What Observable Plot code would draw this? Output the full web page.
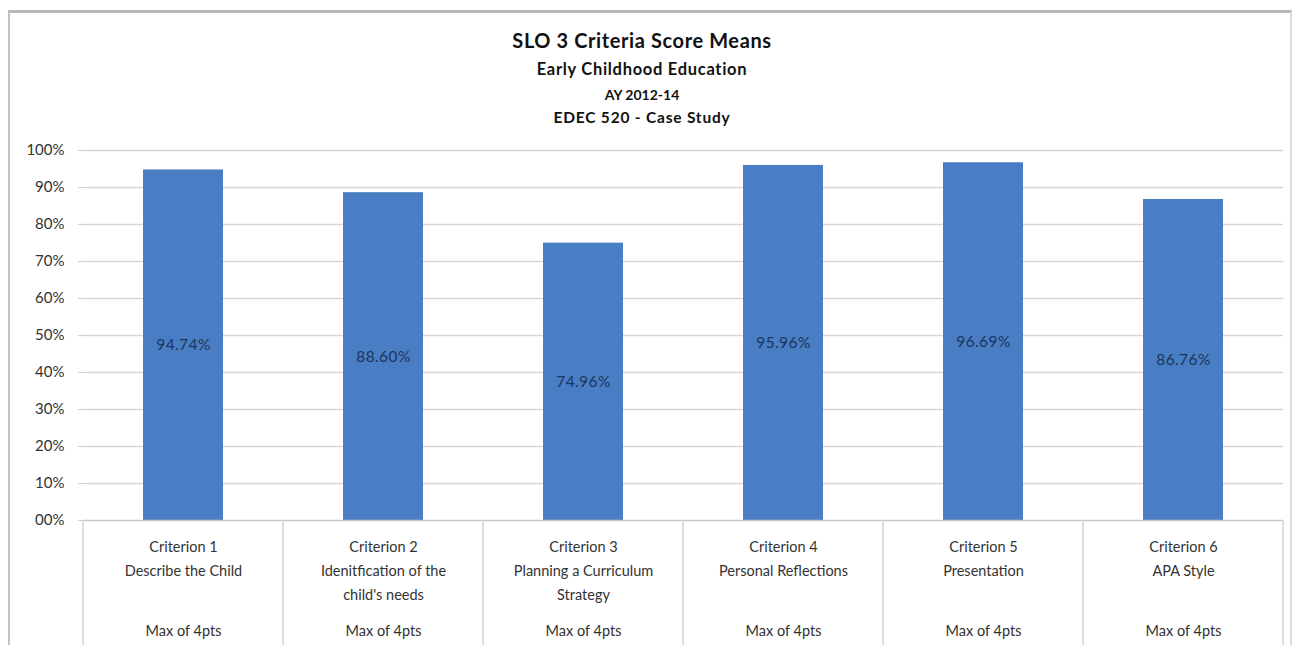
<!DOCTYPE html>
<html>
<head>
<meta charset="utf-8">
<script src="https://cdn.jsdelivr.net/npm/d3@7"></script>
<script src="https://cdn.jsdelivr.net/npm/@observablehq/plot@0.6"></script>
<style>
  html, body { margin: 0; padding: 0; background: #fff; }
  #wrap { position: relative; width: 1297px; height: 645px; overflow: hidden; font-family: Lato, "Open Sans", sans-serif; }
  #frame { position: absolute; left: 8px; top: 10px; width: 1280px; height: 700px; border-top: 3px solid #b8b8b8; border-left: 2px solid #c4c4c4; border-right: 2px solid #dcdcdc; }
  .t { position: absolute; left: 0; width: 1284px; text-align: center; font-weight: bold; color: #111; }
  #t1 { top: 28px; font-size: 20px; letter-spacing: 0.6px; }
  #t2 { top: 59px; font-size: 16.5px; letter-spacing: 0.7px; }
  #t3 { top: 86px; font-size: 14px; }
  #t4 { top: 108px; font-size: 15.5px; letter-spacing: 0.8px; }
  #chart { position: absolute; left: 0; top: 140px; }
  .vlab text { letter-spacing: 0.4px; }
</style>
</head>
<body>
<div id="wrap">
  <div id="frame"></div>
  <div class="t" id="t1">SLO 3 Criteria Score Means</div>
  <div class="t" id="t2">Early Childhood Education</div>
  <div class="t" id="t3">AY 2012-14</div>
  <div class="t" id="t4">EDEC 520 - Case Study</div>
  <div id="chart"></div>
</div>
<script>
const criteria = ["Criterion 1", "Criterion 2", "Criterion 3", "Criterion 4", "Criterion 5", "Criterion 6"];
const descriptions = ["Describe the Child", "Idenitfication of the\nchild's needs", "Planning a Curriculum\nStrategy", "Personal Reflections", "Presentation", "APA Style"];
const maxLabels = ["Max of 4pts", "Max of 4pts", "Max of 4pts", "Max of 4pts", "Max of 4pts", "Max of 4pts"];
const means = [94.74, 88.60, 74.96, 95.96, 96.69, 86.76];
const yTicks = [0, 10, 20, 30, 40, 50, 60, 70, 80, 90, 100];

const data = criteria.map((c, i) => ({c, desc: c + "\n" + descriptions[i], max: maxLabels[i], v: means[i]}));

function dividers(index, scales, values, dims) {
  const sx = scales.x;
  const n = criteria.length;
  const starts = criteria.map(c => sx(c));
  const step = starts[1] - starts[0];
  const bw = typeof sx.bandwidth === "function" ? sx.bandwidth() : (scales.scales?.x?.bandwidth ?? step * 0.4);
  const gap = (step - bw) / 2;
  const xs = starts.map(s => s - gap).concat([starts[n - 1] + bw + gap]);
  const g = d3.create("svg:g");
  const y0 = dims.height - dims.marginBottom;
  g.selectAll("line").data(xs).join("line")
    .attr("x1", d => d).attr("x2", d => d)
    .attr("y1", y0).attr("y2", dims.height)
    .attr("stroke", "#d4d4d4").attr("stroke-width", 1.5);
  return g.node();
}

const chart = Plot.plot({
  width: 1297,
  height: 505,
  marginTop: 10,
  marginBottom: 125,
  marginLeft: 83,
  marginRight: 14,
  style: {fontFamily: "Lato, 'Open Sans', sans-serif", background: "transparent"},
  x: {domain: criteria, paddingInner: 0.6, paddingOuter: 0.3, axis: null},
  y: {domain: [0, 100], axis: null},
  marks: [
    Plot.ruleY(yTicks.filter(t => t > 0), {stroke: "#d6d6d6", strokeWidth: 1.3}),
    Plot.axisY({ticks: yTicks, tickSize: 5, tickPadding: 14, stroke: "#d0d0d0", label: null,
      tickFormat: d => (d === 0 ? "00" : String(d)) + "%", fontSize: 15, fill: "#333"}),
    Plot.barY(data, {x: "c", y: "v", fill: "#4a7ec4"}),
    Plot.ruleY([0], {stroke: "#c8c8c8", strokeWidth: 1.5}),
    Plot.text(data, {x: "c", y: d => d.v / 2, text: d => d.v.toFixed(2) + "%", fill: "#1c355c", fontSize: 15.5, className: "vlab"}),
    dividers,
    Plot.text(data, {x: "c", text: "desc", frameAnchor: "bottom", lineAnchor: "top", dy: 14, lineHeight: 1.66, fontSize: 14.5, fill: "#333"}),
    Plot.text(data, {x: "c", text: "max", frameAnchor: "bottom", lineAnchor: "top", dy: 105, fontSize: 14.5, fill: "#333"})
  ]
});
document.getElementById("chart").appendChild(chart);
</script>
</body>
</html>
